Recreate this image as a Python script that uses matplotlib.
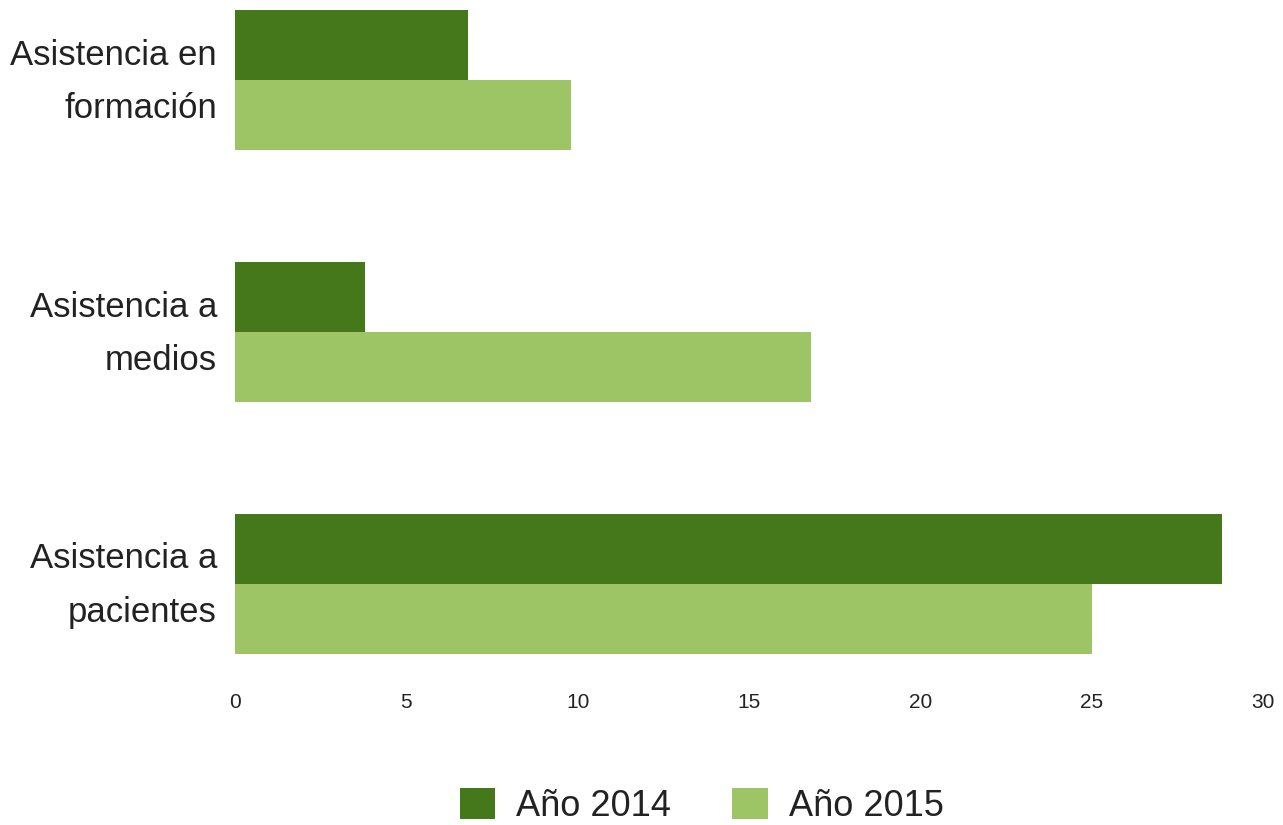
import matplotlib
matplotlib.use("Agg")
import matplotlib.pyplot as plt
import matplotlib.transforms as mtransforms
import numpy as np

plt.rcParams["font.family"] = ["Liberation Sans", "DejaVu Sans"]

categories = ["Asistencia a\npacientes", "Asistencia a\nmedios", "Asistencia en\nformación"]
series_names = ["Año 2014", "Año 2015"]
values_2014 = [28.8, 3.8, 6.8]
values_2015 = [25.0, 16.8, 9.8]
x_ticks = [0, 5, 10, 15, 20, 25, 30]

dark = "#45781b"
light = "#9dc566"
text_color = "#222222"

fig = plt.figure(figsize=(12.83, 8.25), dpi=100)
ax = fig.add_axes([235 / 1283, 1 - 654 / 825, (1263 - 235) / 1283, 644 / 825])

h = 0.2785
y = np.arange(len(categories))
ax.barh(y + h / 2, values_2014, height=h, color=dark, label=series_names[0])
ax.barh(y - h / 2, values_2015, height=h, color=light, label=series_names[1])

ax.set_xlim(0, 30)
ax.set_ylim(-h, len(categories) - 1 + h)
ax.set_xticks(x_ticks)
ax.set_xticklabels([str(t) for t in x_ticks], fontsize=15, color=text_color)
ax.set_yticks(y)
ax.set_yticklabels(categories, fontsize=25, color=text_color, linespacing=1.78)
ax.tick_params(axis="x", length=0, pad=28)
ax.tick_params(axis="y", length=0, pad=13)
# nudge the category labels up a little, like the original
shift = mtransforms.ScaledTranslation(0, 0.12, fig.dpi_scale_trans)
for lab in ax.get_yticklabels():
    lab.set_transform(lab.get_transform() + shift)
for s in ax.spines.values():
    s.set_visible(False)

leg = fig.legend(loc="center", bbox_to_anchor=(0.547, 0.0235), ncol=2, frameon=False,
                 fontsize=26, handlelength=0.97, handleheight=0.97,
                 handletextpad=0.6, columnspacing=1.7, borderaxespad=0)
for t in leg.get_texts():
    t.set_color(text_color)

fig.savefig("out.png", dpi=100)
